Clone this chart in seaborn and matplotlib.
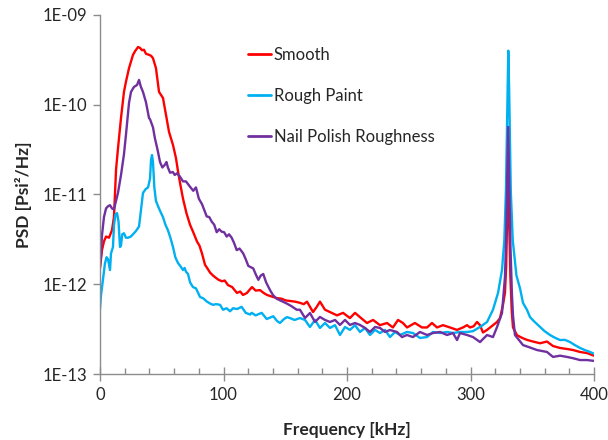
import matplotlib
matplotlib.use("Agg")
import matplotlib.pyplot as plt
from matplotlib.ticker import FixedLocator, MultipleLocator, NullLocator
import seaborn as sns
import pandas as pd

# PSD spectra (frequency in kHz, PSD in psi^2/Hz)
smooth_freq = [0.0, 1.6, 3.2, 4.9, 7.3, 9.7, 11.3, 13.0, 14.6, 17.0, 19.4, 21.0, 23.5, 26.7, 28.5,
               30.8, 32.4, 34.0, 35.6, 37.2, 39.7, 41.5, 42.9, 45.3, 47.8, 51.0, 53.4, 55.9, 59.1,
               61.5, 63.2, 65.0, 67.2, 70.0, 72.9, 75.5, 78.5, 80.5, 82.6, 85.0, 87.0, 89.1, 91.5,
               93.1, 96.0, 98.8, 101.0, 103.6, 107.0, 110.9, 113.5, 115.8, 119.0, 121.5, 123.1,
               126.0, 129.6, 132.5, 135.2, 139.0, 143.3, 147.0, 150.5, 154.0, 158.0, 162.0, 165.0,
               167.6, 170.0, 172.5, 175.5, 178.1, 182.2, 186.2, 191.9, 196.8, 202.4, 206.5, 210.5,
               216.2, 221.1, 226.7, 232.4, 237.2, 241.3, 245.3, 248.6, 255.0, 260.7, 264.8, 268.8,
               272.9, 277.7, 283.4, 289.1, 293.9, 297.2, 299.6, 302.5, 305.3, 307.7, 310.1, 313.4,
               318.2, 321.5, 323.9, 326.3, 327.9, 328.9, 329.8, 330.5, 331.3, 332.3, 333.4, 334.4,
               337.7, 340.1, 342.5, 345.7, 350.6, 356.3, 361.9, 366.8, 372.5, 378.1, 383.0, 388.7,
               394.3, 400.0]
smooth_psd = [1.5e-12, 2.4e-12, 3.0e-12, 3.4e-12, 3.3e-12, 4.0e-12, 5.6e-12, 1.9e-11, 3.3e-11,
              7.1e-11, 1.39e-10, 1.8e-10, 2.56e-10, 3.59e-10, 3.97e-10, 4.4e-10, 4.3e-10, 4.05e-10,
              4.1e-10, 3.7e-10, 3.6e-10, 3.5e-10, 3.3e-10, 2.56e-10, 1.39e-10, 1.19e-10, 7.7e-11,
              4.97e-11, 3.56e-11, 2.55e-11, 1.8e-11, 1.3e-11, 9.0e-12, 6.2e-12, 4.6e-12, 3.8e-12,
              3.0e-12, 2.7e-12, 2.2e-12, 1.65e-12, 1.5e-12, 1.35e-12, 1.25e-12, 1.2e-12, 1.12e-12,
              1.08e-12, 1.1e-12, 9.8e-13, 9.3e-13, 8.0e-13, 8.3e-13, 7.6e-13, 8.0e-13, 8.8e-13,
              9.3e-13, 8.5e-13, 8.6e-13, 8.0e-13, 7.6e-13, 7.3e-13, 7.0e-13, 6.9e-13, 6.6e-13,
              6.5e-13, 6.4e-13, 6.2e-13, 6.0e-13, 6.4e-13, 5.6e-13, 4.9e-13, 5.6e-13, 6.4e-13,
              5.2e-13, 4.9e-13, 4.5e-13, 4.8e-13, 4.2e-13, 4.8e-13, 4.3e-13, 3.7e-13, 4.0e-13,
              3.5e-13, 3.7e-13, 3.3e-13, 4.0e-13, 3.7e-13, 3.3e-13, 3.7e-13, 3.3e-13, 3.3e-13,
              3.7e-13, 3.3e-13, 3.5e-13, 3.3e-13, 3.1e-13, 3.3e-13, 3.5e-13, 3.3e-13, 3.4e-13,
              3.8e-13, 3.5e-13, 2.9e-13, 3.1e-13, 3.5e-13, 3.8e-13, 4.2e-13, 5.9e-13, 8.0e-13,
              1.6e-12, 6.5e-12, 2.2e-11, 5.0e-12, 1.2e-12, 5.0e-13, 3.3e-13, 2.7e-13, 2.6e-13,
              2.5e-13, 2.4e-13, 2.3e-13, 2.2e-13, 2.3e-13, 2.05e-13, 1.95e-13, 1.9e-13, 1.85e-13,
              1.76e-13, 1.71e-13, 1.6e-13]

rough_freq = [0.0, 0.8, 2.4, 4.0, 5.3, 6.5, 8.1, 8.9, 10.5, 11.3, 12.5, 13.8, 15.0, 16.2, 17.0,
              18.0, 19.4, 21.0, 22.7, 25.0, 26.7, 29.0, 31.6, 33.2, 34.8, 37.0, 38.9, 40.5, 41.3,
              42.1, 42.9, 44.0, 45.3, 47.0, 49.0, 51.0, 53.0, 55.0, 57.0, 59.1, 61.0, 63.2, 65.0,
              67.2, 68.5, 69.6, 71.3, 72.9, 75.3, 77.7, 79.5, 81.0, 83.4, 86.6, 89.1, 91.5, 94.0,
              97.2, 99.6, 102.5, 105.3, 107.7, 111.0, 114.7, 118.0, 121.5, 122.8, 126.0, 130.9,
              135.0, 140.3, 143.3, 145.7, 149.0, 151.4, 153.8, 157.5, 161.9, 166.0, 170.0, 174.1,
              178.1, 182.2, 186.2, 190.3, 194.3, 198.4, 202.4, 206.5, 210.5, 214.6, 218.6, 222.7,
              226.7, 230.8, 234.8, 238.9, 242.9, 248.6, 253.4, 259.1, 264.8, 269.6, 275.3, 281.0,
              285.8, 291.5, 297.2, 302.0, 307.7, 313.4, 318.2, 322.3, 325.5, 327.4, 328.7, 330.0,
              330.6, 331.3, 332.6, 334.2, 337.2, 340.1, 342.5, 345.7, 348.2, 352.0, 356.3, 360.0,
              364.4, 368.0, 372.5, 376.5, 380.6, 384.5, 388.7, 392.5, 396.8, 400.0]
rough_psd = [5.3e-13, 7.5e-13, 1.12e-12, 1.7e-12, 2.0e-12, 1.9e-12, 1.44e-12, 2.2e-12, 2.6e-12,
             4.5e-12, 6.0e-12, 6.2e-12, 5.0e-12, 2.6e-12, 2.7e-12, 3.6e-12, 3.7e-12, 3.3e-12,
             3.3e-12, 3.4e-12, 3.6e-12, 3.9e-12, 4.4e-12, 6.7e-12, 1.04e-11, 1.15e-11, 1.2e-11,
             1.5e-11, 2.4e-11, 2.75e-11, 2.3e-11, 1.2e-11, 8.5e-12, 7.4e-12, 6.4e-12, 5.6e-12,
             4.6e-12, 4.0e-12, 3.3e-12, 2.6e-12, 2.0e-12, 1.72e-12, 1.6e-12, 1.44e-12, 1.52e-12,
             1.38e-12, 1.3e-12, 1.05e-12, 9.3e-13, 9.0e-13, 8.0e-13, 7.2e-13, 7.0e-13, 6.4e-13,
             6.1e-13, 5.9e-13, 6.0e-13, 5.9e-13, 5.2e-13, 5.4e-13, 5.0e-13, 5.4e-13, 5.3e-13,
             5.6e-13, 4.8e-13, 4.6e-13, 4.8e-13, 4.5e-13, 4.8e-13, 4.1e-13, 4.4e-13, 3.9e-13,
             3.7e-13, 4.1e-13, 4.3e-13, 4.2e-13, 4.0e-13, 4.2e-13, 4.0e-13, 3.34e-13, 4.0e-13,
             3.26e-13, 3.7e-13, 3.26e-13, 3.5e-13, 2.72e-13, 3.34e-13, 3.1e-13, 3.5e-13, 2.94e-13,
             3.26e-13, 2.72e-13, 3.1e-13, 2.86e-13, 3.1e-13, 2.58e-13, 2.94e-13, 2.72e-13,
             2.94e-13, 2.86e-13, 2.52e-13, 2.58e-13, 2.94e-13, 2.86e-13, 2.94e-13, 2.86e-13,
             2.94e-13, 2.94e-13, 3.0e-13, 3.34e-13, 3.8e-13, 5.2e-13, 8.0e-13, 1.44e-12, 3.1e-12,
             1.12e-11, 1.45e-10, 4.0e-10, 1.45e-10, 1.12e-11, 3.1e-12, 1.25e-12, 9.0e-13, 6.2e-13,
             5.2e-13, 4.3e-13, 3.8e-13, 3.34e-13, 3.0e-13, 2.72e-13, 2.55e-13, 2.39e-13, 2.4e-13,
             2.27e-13, 2.1e-13, 1.95e-13, 1.85e-13, 1.76e-13, 1.68e-13]

nail_freq = [0.0, 0.8, 1.6, 3.2, 4.9, 6.5, 8.1, 9.7, 11.3, 13.0, 14.6, 17.0, 19.4, 21.0, 23.5,
             25.1, 27.5, 30.0, 31.6, 33.0, 34.8, 37.2, 39.7, 40.5, 42.9, 44.5, 46.5, 48.6, 50.5,
             52.6, 53.8, 55.0, 56.7, 59.0, 60.5, 62.3, 64.5, 67.2, 69.6, 72.9, 75.5, 77.7, 80.0,
             82.6, 86.4, 88.5, 90.4, 92.5, 94.5, 96.5, 98.5, 100.5, 102.6, 104.5, 106.6, 108.5,
             110.7, 113.0, 116.0, 118.0, 120.1, 122.0, 124.1, 126.0, 128.2, 130.2, 132.2, 134.5,
             137.7, 140.0, 143.0, 147.0, 151.2, 155.0, 159.3, 161.9, 166.0, 170.0, 174.1, 178.1,
             182.2, 186.2, 190.3, 194.3, 198.4, 202.4, 206.5, 210.5, 214.6, 218.6, 222.7, 226.7,
             230.8, 234.8, 240.5, 244.5, 248.6, 253.4, 259.1, 264.8, 269.6, 275.3, 281.0, 285.8,
             289.1, 291.5, 297.2, 302.0, 307.7, 313.4, 318.2, 321.5, 325.5, 327.9, 328.8, 329.7,
             330.5, 331.3, 332.4, 333.5, 334.4, 336.0, 342.5, 347.0, 353.8, 361.9, 366.8, 372.5,
             378.1, 383.0, 388.7, 394.3, 400.0]
nail_psd = [1.6e-12, 2.1e-12, 3.5e-12, 5.6e-12, 7.0e-12, 7.4e-12, 7.6e-12, 7.0e-12, 6.8e-12,
            8.5e-12, 1.05e-11, 1.65e-11, 2.8e-11, 4.6e-11, 1.05e-10, 1.39e-10, 1.58e-10, 1.66e-10,
            1.89e-10, 1.6e-10, 1.39e-10, 1.07e-10, 7.1e-11, 6.9e-11, 5.6e-11, 4.2e-11, 3.2e-11,
            2.3e-11, 2.0e-11, 2.15e-11, 2.3e-11, 2.0e-11, 1.75e-11, 1.78e-11, 1.65e-11, 1.72e-11,
            1.6e-11, 1.4e-11, 1.4e-11, 1.22e-11, 1.1e-11, 1.2e-11, 9.0e-12, 7.8e-12, 5.7e-12,
            5.6e-12, 5.0e-12, 4.6e-12, 3.8e-12, 4.1e-12, 3.85e-12, 3.8e-12, 3.4e-12, 3.6e-12,
            3.3e-12, 2.9e-12, 2.4e-12, 2.5e-12, 2.2e-12, 1.9e-12, 1.6e-12, 1.55e-12, 1.5e-12,
            1.3e-12, 1.12e-12, 1.25e-12, 1.3e-12, 1.05e-12, 8.6e-13, 7.6e-13, 6.9e-13, 6.5e-13,
            6.1e-13, 5.7e-13, 5.2e-13, 5.2e-13, 4.21e-13, 4.78e-13, 3.8e-13, 4.32e-13, 4.0e-13,
            3.8e-13, 4.0e-13, 3.52e-13, 4.0e-13, 3.52e-13, 3.7e-13, 3.52e-13, 3.26e-13, 2.94e-13,
            3.34e-13, 3.26e-13, 2.94e-13, 3.09e-13, 2.94e-13, 2.58e-13, 2.72e-13, 2.58e-13,
            2.94e-13, 2.72e-13, 2.86e-13, 2.94e-13, 2.72e-13, 2.86e-13, 2.39e-13, 2.86e-13,
            2.72e-13, 2.58e-13, 2.27e-13, 2.72e-13, 2.58e-13, 3.34e-13, 4.78e-13, 1.2e-12,
            3.0e-12, 1.5e-11, 5.65e-11, 1.5e-11, 2.5e-12, 8.0e-13, 4.5e-13, 2.72e-13, 2.1e-13,
            2.0e-13, 1.85e-13, 1.76e-13, 1.55e-13, 1.6e-13, 1.55e-13, 1.5e-13, 1.43e-13,
            1.43e-13, 1.4e-13]

series_names = ["Smooth", "Rough Paint", "Nail Polish Roughness"]
series_colors = ["#FF0000", "#00B0F0", "#7030A0"]
x_ticks = [0, 100, 200, 300, 400]
y_ticks = [1e-13, 1e-12, 1e-11, 1e-10, 1e-9]
y_tick_labels = ["1E-13", "1E-12", "1E-11", "1E-10", "1E-09"]

frames = []
for name, f, p in zip(series_names,
                      [smooth_freq, rough_freq, nail_freq],
                      [smooth_psd, rough_psd, nail_psd]):
    frames.append(pd.DataFrame({"Frequency": f, "PSD": p, "Series": name}))
df = pd.concat(frames, ignore_index=True)

sns.set_style("white")
plt.rcParams["font.family"] = ["Lato", "DejaVu Sans"]

fig = plt.figure(figsize=(6.08, 4.40), dpi=100)
ax = fig.add_axes([100 / 608, 1 - 374 / 440, 494 / 608, 359 / 440])

sns.lineplot(data=df, x="Frequency", y="PSD", hue="Series", hue_order=series_names,
             palette=series_colors, estimator=None, sort=True, linewidth=1.7, ax=ax)

ax.set_yscale("log")
ax.set_xlim(0, 400)
ax.set_ylim(1e-13, 1e-9)

axis_gray = "#8C8C8C"
for side in ["top", "right"]:
    ax.spines[side].set_visible(False)
for side in ["left", "bottom"]:
    ax.spines[side].set_color(axis_gray)
    ax.spines[side].set_linewidth(1.0)

ax.xaxis.set_major_locator(FixedLocator(x_ticks))
ax.xaxis.set_minor_locator(MultipleLocator(20))
ax.yaxis.set_major_locator(FixedLocator(y_ticks))
ax.yaxis.set_minor_locator(NullLocator())
ax.set_yticklabels(y_tick_labels)

ax.tick_params(axis="x", which="major", direction="inout", length=10, width=1.0,
               color=axis_gray, labelsize=12, pad=4, bottom=True)
ax.tick_params(axis="x", which="minor", direction="in", length=4, width=1.0,
               color=axis_gray, bottom=True)
ax.tick_params(axis="y", which="major", direction="out", length=5, width=1.0,
               color=axis_gray, labelsize=12, pad=4, left=True)

ax.set_xlabel("Frequency [kHz]", fontsize=12.5, fontweight="bold", labelpad=14)
ax.set_ylabel("PSD [Psi²/Hz]", fontsize=12.5, fontweight="bold", labelpad=8)

leg = ax.legend(loc="upper left", bbox_to_anchor=(0.2996, 0.912), frameon=False,
                fontsize=12, handlelength=1.35, handletextpad=0.2, labelspacing=1.5,
                borderpad=0, borderaxespad=0)
for line in leg.get_lines():
    line.set_linewidth(2.0)

fig.savefig("out.png", dpi=100)
